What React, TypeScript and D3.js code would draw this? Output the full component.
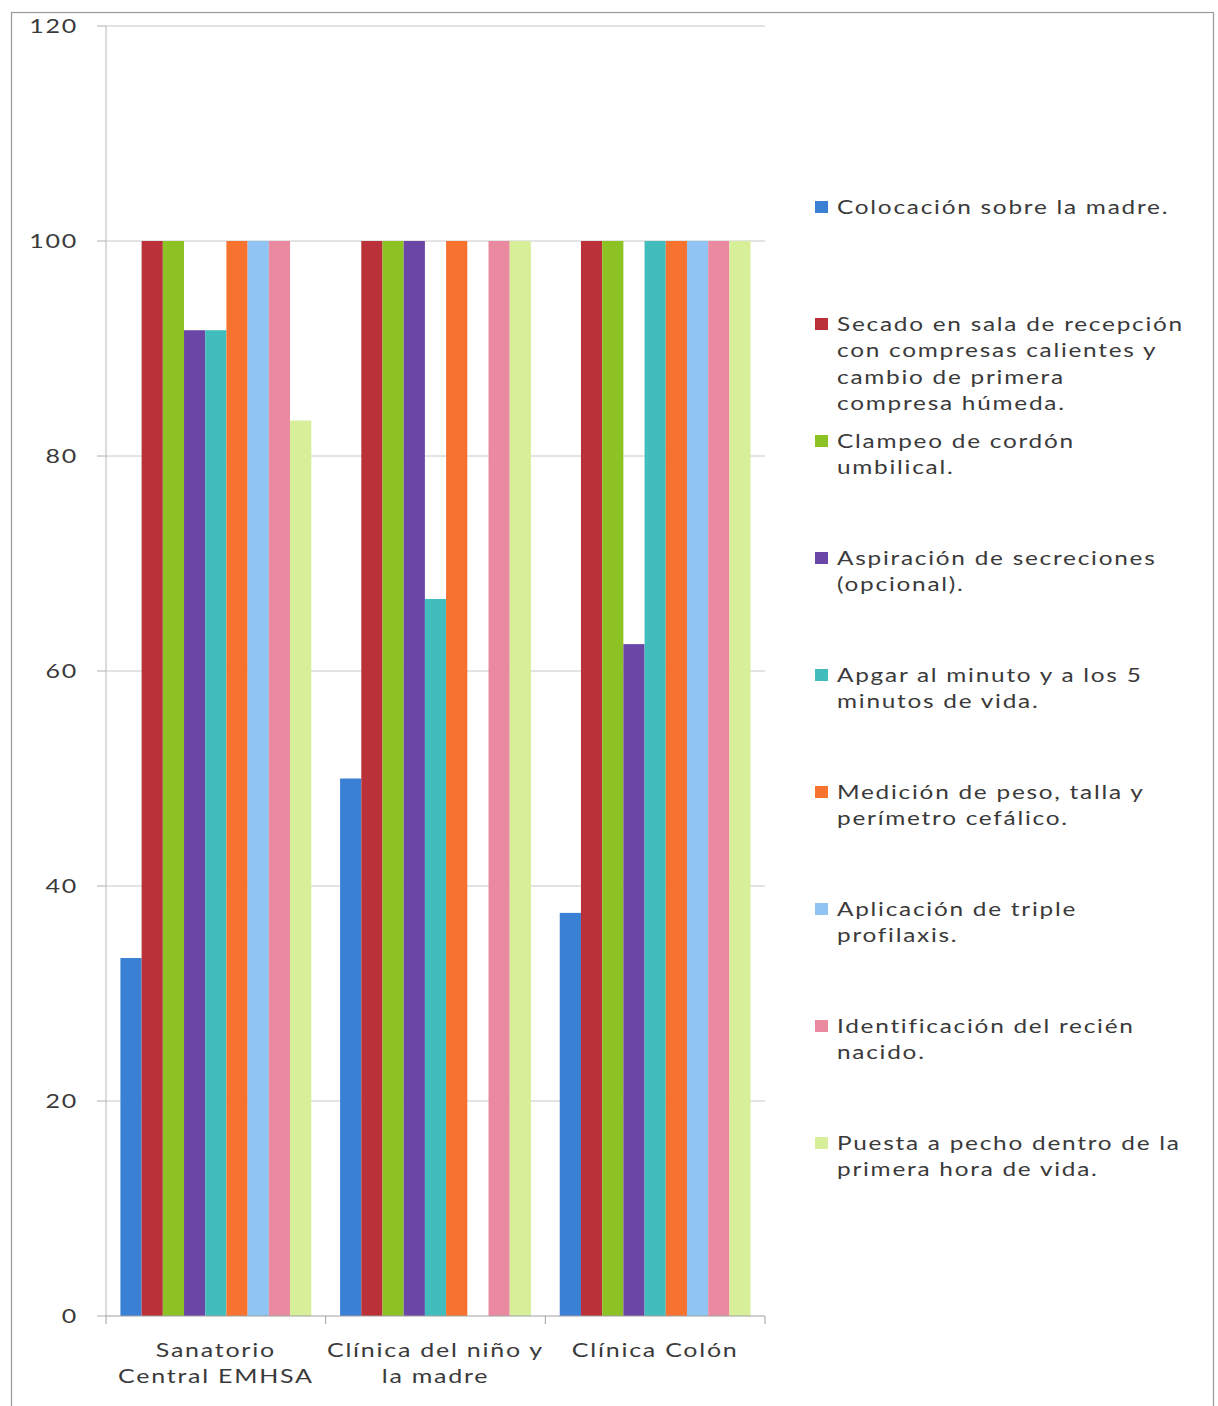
import React from "react";
import * as d3 from "d3";

const categories = [
  ["Sanatorio", "Central EMHSA"],
  ["Clínica del niño y", "la madre"],
  ["Clínica Colón"],
];

const seriesNames = [
  ["Colocación sobre la madre."],
  ["Secado en sala de recepción", "con compresas calientes y", "cambio de primera", "compresa húmeda."],
  ["Clampeo de cordón", "umbilical."],
  ["Aspiración de secreciones", "(opcional)."],
  ["Apgar al minuto y a los 5", "minutos de vida."],
  ["Medición de peso, talla y", "perímetro cefálico."],
  ["Aplicación de triple", "profilaxis."],
  ["Identificación del recién", "nacido."],
  ["Puesta a pecho dentro de la", "primera hora de vida."],
];

// values[series][category]
const colocacion = [33.3, 50, 37.5];
const secado = [100, 100, 100];
const clampeo = [100, 100, 100];
const aspiracion = [91.7, 100, 62.5];
const apgar = [91.7, 66.7, 100];
const medicion = [100, 100, 100];
const aplicacion = [100, 0, 100];
const identificacion = [100, 100, 100];
const puesta = [83.3, 100, 100];
const values = [colocacion, secado, clampeo, aspiracion, apgar, medicion, aplicacion, identificacion, puesta];

const colors = ["#3a80d5", "#ba3139", "#8cc224", "#6a46a6", "#40bdbc", "#f7712f", "#90c4f2", "#ea8aa0", "#d6ef98"];

const yTicks = [0, 20, 40, 60, 80, 100, 120];

export default function App() {
  const W = 1218, H = 1406;
  const x0 = 106, x1 = 765;
  const y = d3.scaleLinear().domain([0, 120]).range([1316, 26]);
  const xg = d3.scaleBand<number>().domain(d3.range(categories.length)).range([x0, x1]).padding(0);
  const xs = d3.scaleBand<number>().domain(d3.range(values.length)).range([0, xg.bandwidth()]).paddingInner(0).paddingOuter(0.68);
  const font = "Lato, 'Open Sans', sans-serif";
  const txt = "#3a3a3a";
  const sx = 1.25;
  return (
    <svg width={W} height={H} style={{ position: "absolute", left: 0, top: 0, background: "#fff" }} fontFamily={font}>
      <rect x={11.5} y={12.5} width={1202} height={1410} fill="none" stroke="#9a9a9a" strokeWidth={1.2} />
      {yTicks.map((t) => (
        <g key={t}>
          {t > 0 && <line x1={x0} x2={x1} y1={y(t)} y2={y(t)} stroke="#c8c8c8" strokeWidth={1} />}
          <line x1={97} x2={x0} y1={y(t)} y2={y(t)} stroke="#b0b0b0" strokeWidth={1} />
          <text transform={`translate(78,${y(t) + 7}) scale(${sx},1)`} textAnchor="end" fontSize={20} fill={txt} letterSpacing={1.4}>{t}</text>
        </g>
      ))}
      <line x1={x0} x2={x0} y1={y(120)} y2={y(0)} stroke="#b8b8b8" strokeWidth={1} />
      {values.map((vals, si) =>
        vals.map((v, ci) => (
          v > 0 ? <rect key={`${si}-${ci}`} x={(xg(ci) as number) + (xs(si) as number)} y={y(v)} width={xs.bandwidth()} height={y(0) - y(v)} fill={colors[si]} /> : null
        ))
      )}
      <line x1={x0} x2={x1} y1={y(0)} y2={y(0)} stroke="#a0a0a0" strokeWidth={1} />
      {d3.range(categories.length + 1).map((i) => {
        const xx = i < categories.length ? (xg(i) as number) : x1;
        return <line key={i} x1={xx} x2={xx} y1={y(0)} y2={y(0) + 8} stroke="#a0a0a0" strokeWidth={1} />;
      })}
      {categories.map((lines, ci) => (
        <g key={ci} transform={`translate(${(xg(ci) as number) + xg.bandwidth() / 2},0) scale(${sx},1)`}>
          <text textAnchor="middle" fontSize={20} fill={txt} letterSpacing={1.4}>
            {lines.map((l, li) => (
              <tspan key={li} x={0} y={1357 + li * 26}>{l}</tspan>
            ))}
          </text>
        </g>
      ))}
      {seriesNames.map((lines, si) => {
        const ly = 207 + si * 117;
        return (
          <g key={si}>
            <rect x={815} y={ly - 6} width={13} height={12} fill={colors[si]} />
            <g transform={`translate(837,0) scale(${sx},1)`}>
              <text fontSize={19.5} fill={txt} letterSpacing={1.4}>
                {lines.map((l, li) => (
                  <tspan key={li} x={0} y={ly + 7 + li * 26.3}>{l}</tspan>
                ))}
              </text>
            </g>
          </g>
        );
      })}
    </svg>
  );
}
